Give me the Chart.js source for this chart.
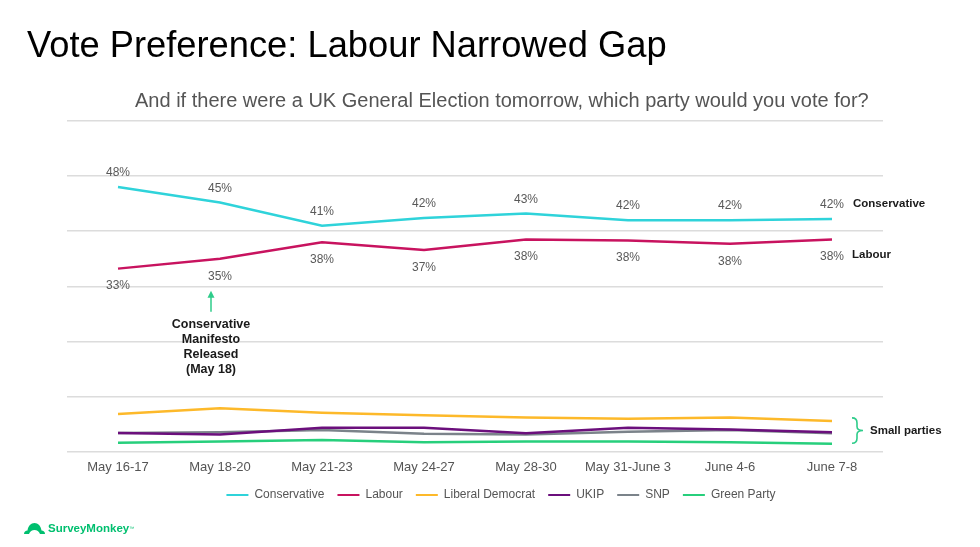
<!DOCTYPE html>
<html><head><meta charset="utf-8">
<script src="https://cdn.jsdelivr.net/npm/chart.js@4.4.1/dist/chart.umd.min.js"></script>
<style>
html,body{margin:0;padding:0;background:#fff;}
body{width:980px;height:547px;position:relative;overflow:hidden;font-family:"Liberation Sans",Arial,Helvetica,sans-serif;}
#wrap{position:absolute;left:0;top:0;width:980px;height:547px;}
#title{position:absolute;left:27px;top:27px;font-size:36.3px;line-height:36px;color:#000;white-space:nowrap;}
#sub{position:absolute;left:135px;top:90px;font-size:20px;line-height:20px;color:#555;white-space:nowrap;}
#logo{position:absolute;left:23px;top:519px;height:18px;display:flex;align-items:center;color:#00bf6f;font-weight:bold;font-size:11.5px;white-space:nowrap;}
#logo svg{margin-right:2px;}
#logo sup{font-size:5px;font-weight:normal;}
</style></head>
<body>
<div id="wrap"><canvas id="c" width="980" height="547"></canvas></div>
<div id="title">Vote Preference: Labour Narrowed Gap</div>
<div id="sub">And if there were a UK General Election tomorrow, which party would you vote for?</div>
<div id="logo"><svg width="23" height="14" viewBox="0 0 23 14"><path d="M1 13 C1 11 2.5 9.5 4.5 9.5 C5 5 8 2 11.5 2 C15 2 18 5 18.5 9.5 C20.5 9.5 22 11 22 13 L17 13 C16 10.5 14 9 11.5 9 C9 9 7 10.5 6 13 Z" fill="#00bf6f"/></svg><span>SurveyMonkey</span><sup>™</sup></div>
<script>
const categories = ["May 16-17","May 18-20","May 21-23","May 24-27","May 28-30","May 31-June 3","June 4-6","June 7-8"];
const conservative = [48, 45.2, 41, 42.4, 43.2, 42, 42, 42.2];
const conservativeLabels = [48, 45, 41, 42, 43, 42, 42, 42];
const labour = [33.2, 35, 38, 36.6, 38.5, 38.3, 37.7, 38.5];
const labourLabels = [33, 35, 38, 37, 38, 38, 38, 38];
const libDem = [6.8, 7.85, 7.05, 6.6, 6.15, 5.95, 6.15, 5.55];
const ukip = [3.35, 3.1, 4.3, 4.3, 3.3, 4.3, 4.0, 3.5];
const snp = [3.35, 3.5, 3.9, 3.2, 3.1, 3.6, 3.9, 3.3];
const green = [1.6, 1.8, 2.1, 1.7, 1.8, 1.8, 1.7, 1.4];
const yTicks = [0, 10, 20, 30, 40, 50, 60];
const bracketRange = [6.1, 1.5];

const FONT = '"Liberation Sans", Arial, Helvetica, sans-serif';
Chart.defaults.font.family = FONT;

function ds(label, data, color, order) {
  return {label, data, borderColor: color, backgroundColor: color, borderWidth: 2.5,
    pointRadius: 0, pointHoverRadius: 0, tension: 0, fill: false, order};
}

const annotPlugin = {
  id: 'annot',
  afterDatasetsDraw(chart) {
    const ctx = chart.ctx;
    const con = chart.getDatasetMeta(0).data;
    const lab = chart.getDatasetMeta(1).data;
    const ys = chart.scales.y;
    ctx.save();
    ctx.font = '12px ' + FONT;
    ctx.fillStyle = '#595959';
    ctx.textAlign = 'center';
    ctx.textBaseline = 'middle';
    con.forEach((p, i) => ctx.fillText(conservativeLabels[i] + '%', p.x, p.y - 14));
    lab.forEach((p, i) => ctx.fillText(labourLabels[i] + '%', p.x, p.y + 17.5));

    ctx.font = 'bold 11.5px ' + FONT;
    ctx.fillStyle = '#1a1a1a';
    ctx.textAlign = 'left';
    const lc = con[con.length - 1], ll = lab[lab.length - 1];
    ctx.fillText('Conservative', lc.x + 21, lc.y - 15);
    ctx.fillText('Labour', ll.x + 20, ll.y + 15);

    // bracket for small parties
    const bx = lc.x + 20;
    const t = ys.getPixelForValue(bracketRange[0]);
    const b = ys.getPixelForValue(bracketRange[1]);
    const m = (t + b) / 2;
    ctx.strokeStyle = '#2ecc8a';
    ctx.lineWidth = 1.6;
    ctx.beginPath();
    ctx.moveTo(bx, t);
    ctx.quadraticCurveTo(bx + 5, t, bx + 5, t + 5);
    ctx.lineTo(bx + 5, m - 4);
    ctx.quadraticCurveTo(bx + 5, m, bx + 11, m);
    ctx.quadraticCurveTo(bx + 5, m, bx + 5, m + 4);
    ctx.lineTo(bx + 5, b - 5);
    ctx.quadraticCurveTo(bx + 5, b, bx, b);
    ctx.stroke();
    ctx.fillStyle = '#1a1a1a';
    ctx.fillText('Small parties', bx + 18, m);

    // manifesto annotation
    const ax = lab[1].x - 9;
    const ay = lab[1].y;
    ctx.strokeStyle = '#2ecc8a';
    ctx.fillStyle = '#2ecc8a';
    ctx.lineWidth = 1.5;
    ctx.beginPath();
    ctx.moveTo(ax, ay + 53);
    ctx.lineTo(ax, ay + 37);
    ctx.stroke();
    ctx.beginPath();
    ctx.moveTo(ax, ay + 32);
    ctx.lineTo(ax - 3.5, ay + 39);
    ctx.lineTo(ax + 3.5, ay + 39);
    ctx.closePath();
    ctx.fill();
    ctx.font = 'bold 12.5px ' + FONT;
    ctx.fillStyle = '#1a1a1a';
    ctx.textAlign = 'center';
    ['Conservative', 'Manifesto', 'Released', '(May 18)'].forEach((s, i) => {
      ctx.fillText(s, ax, ay + 66 + i * 15);
    });
    ctx.restore();
  }
};

new Chart(document.getElementById('c'), {
  type: 'line',
  data: {
    labels: categories,
    datasets: [
      ds('Conservative', conservative, '#2fd3da', 1),
      ds('Labour', labour, '#c8135f', 2),
      ds('Liberal Democrat', libDem, '#fdb92a', 3),
      ds('UKIP', ukip, '#6b0f7c', 4),
      ds('SNP', snp, '#7b838a', 5),
      ds('Green Party', green, '#27cf7c', 6)
    ]
  },
  options: {
    responsive: false,
    animation: false,
    layout: {padding: {left: 22, right: 0, top: 121, bottom: 36}},
    scales: {
      x: {
        offset: true,
        afterFit: (s) => { s.height = 24.5; },
        grid: {display: false, drawTicks: false},
        border: {display: false},
        ticks: {color: '#555', font: {size: 13}, padding: 8, maxRotation: 0, autoSkip: false}
      },
      y: {
        min: 0, max: 60,
        afterBuildTicks: (s) => { s.ticks = yTicks.map(v => ({value: v})); },
        afterFit: (s) => { s.width = 45; },
        grid: {color: '#dcdcdc', lineWidth: 1.5, drawTicks: false},
        border: {display: false},
        ticks: {display: false}
      },
      y2: {
        position: 'right',
        min: 0, max: 60,
        afterFit: (s) => { s.width = 97; },
        grid: {display: false, drawTicks: false},
        border: {display: false},
        ticks: {display: false}
      }
    },
    plugins: {
      legend: {
        position: 'bottom',
        labels: {
          color: '#555', font: {size: 12}, boxWidth: 22, boxHeight: 2, padding: 13,
          generateLabels: (chart) => Chart.defaults.plugins.legend.labels.generateLabels(chart).map(l => Object.assign(l, {lineWidth: 0}))
        }
      },
      tooltip: {enabled: false}
    }
  },
  plugins: [annotPlugin]
});
</script>
</body></html>
